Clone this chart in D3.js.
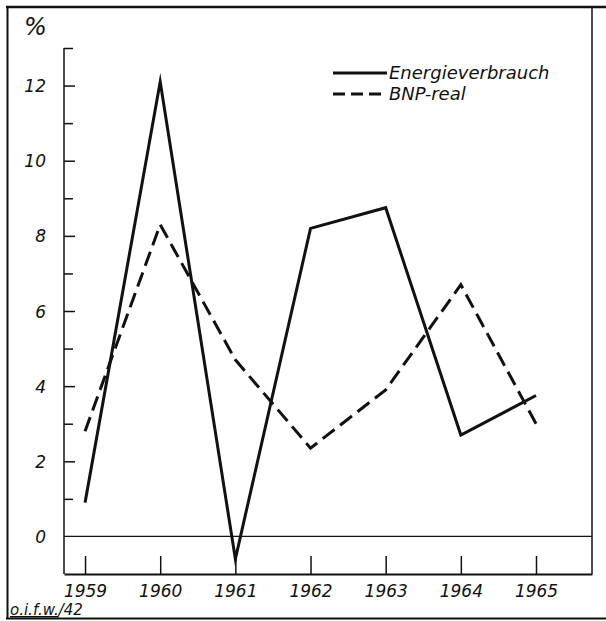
<!DOCTYPE html>
<html>
<head>
<meta charset="utf-8">
<script src="https://cdn.jsdelivr.net/npm/d3@7"></script>
<style>
  body { margin: 0; background: #fff; }
  text { font-family: "DejaVu Sans", sans-serif; font-style: oblique; fill: #111; }
</style>
</head>
<body>
<svg id="chart" width="606" height="621"></svg>
<script>
// values (percent change on previous year)
var years = [1959, 1960, 1961, 1962, 1963, 1964, 1965];
var energie = [0.9, 12.1, -0.6, 8.2, 8.75, 2.7, 3.75];
var bnp = [2.8, 8.3, 4.7, 2.35, 3.9, 6.7, 3.0];
var yTicks = [1, 2, 3, 4, 5, 6, 7, 8, 9, 10, 11, 12, 13];
var yLabels = [0, 2, 4, 6, 8, 10, 12];
var seriesNames = ["Energieverbrauch", "BNP-real"];

var svg = d3.select("#chart");
var ink = "#111";

var x = d3.scaleLinear().domain([1958.72, 1965.745]).range([64, 592]);
var y = d3.scaleLinear().domain([-1, 13]).range([574, 48]);

// outer frame
var frame = svg.append("g").attr("stroke", ink).attr("fill", "none");
frame.append("line").attr("x1", 6).attr("x2", 606).attr("y1", 7).attr("y2", 7).attr("stroke-width", 2.5);
frame.append("line").attr("x1", 7.5).attr("x2", 7.5).attr("y1", 6).attr("y2", 619).attr("stroke-width", 2);
frame.append("line").attr("x1", 6).attr("x2", 606).attr("y1", 618.5).attr("y2", 618.5).attr("stroke-width", 2);
frame.append("line").attr("x1", x.range()[1]).attr("x2", x.range()[1]).attr("y1", 7).attr("y2", y.range()[0]).attr("stroke-width", 1.5);

// y axis: ticks point inward, labels only at even values
var yAx = svg.append("g")
    .attr("transform", "translate(" + x.range()[0] + ",0)")
    .call(d3.axisRight(y).tickValues(yTicks).tickSizeInner(10).tickSizeOuter(0).tickFormat(""));
yAx.select(".domain").attr("stroke", ink).attr("stroke-width", 1.5)
    .attr("d", "M0," + y(13) + "V" + y.range()[0]);
yAx.selectAll(".tick line").attr("stroke", ink).attr("stroke-width", 1.5)
    .attr("x2", function(d) { return d % 2 === 0 ? 11 : 9; });

var yLab = svg.append("g")
    .attr("transform", "translate(" + x.range()[0] + ",0)")
    .call(d3.axisLeft(y).tickValues(yLabels).tickSize(0).tickPadding(18).tickFormat(d3.format("d")));
yLab.select(".domain").remove();
yLab.selectAll("text").attr("font-size", 17).attr("font-family", null).attr("dy", "0.36em");

svg.append("text")
    .attr("x", 24).attr("y", 35)
    .attr("font-size", 24)
    .text("%");

// zero line
svg.append("line")
    .attr("x1", x.range()[0]).attr("x2", x.range()[1])
    .attr("y1", y(0)).attr("y2", y(0))
    .attr("stroke", ink).attr("stroke-width", 1.2);

// x axis: ticks go up from the baseline, labels under it
var xAx = svg.append("g")
    .attr("transform", "translate(0," + y.range()[0] + ")")
    .call(d3.axisBottom(x).tickValues(years).tickSizeInner(-18).tickSizeOuter(0).tickPadding(11).tickFormat(d3.format("d")));
xAx.select(".domain").attr("stroke", ink).attr("stroke-width", 1.8);
xAx.selectAll(".tick line").attr("stroke", ink).attr("stroke-width", 1.5);
xAx.selectAll("text").attr("font-size", 17).attr("font-family", null);

// series lines
var line = d3.line()
    .x(function(d) { return x(d[0]); })
    .y(function(d) { return y(d[1]); });

svg.append("path")
    .datum(d3.zip(years, bnp))
    .attr("d", line)
    .attr("fill", "none")
    .attr("stroke", ink)
    .attr("stroke-width", 3)
    .attr("stroke-dasharray", "15,7")
    .attr("stroke-linejoin", "miter");

svg.append("path")
    .datum(d3.zip(years, energie))
    .attr("d", line)
    .attr("fill", "none")
    .attr("stroke", ink)
    .attr("stroke-width", 3)
    .attr("stroke-linejoin", "miter")
    .attr("stroke-miterlimit", 10);

// legend
var legend = svg.append("g").attr("transform", "translate(333,73)");
legend.selectAll("line")
  .data(seriesNames)
  .enter().append("line")
    .attr("x1", 0).attr("x2", 54)
    .attr("y1", function(d, i) { return i * 21; })
    .attr("y2", function(d, i) { return i * 21; })
    .attr("stroke", ink)
    .attr("stroke-width", 3)
    .attr("stroke-dasharray", function(d, i) { return i === 1 ? "12,6" : null; });
legend.selectAll("text")
  .data(seriesNames)
  .enter().append("text")
    .attr("x", 56)
    .attr("y", function(d, i) { return i * 21 + 6; })
    .attr("font-size", 18)
    .text(function(d) { return d; });

// source mark bottom left
var src = svg.append("text")
    .attr("x", 10).attr("y", 615)
    .attr("font-size", 15);
src.append("tspan").attr("text-decoration", "underline").text("o.i.f.w.");
src.append("tspan").text("/42");
</script>
</body>
</html>
